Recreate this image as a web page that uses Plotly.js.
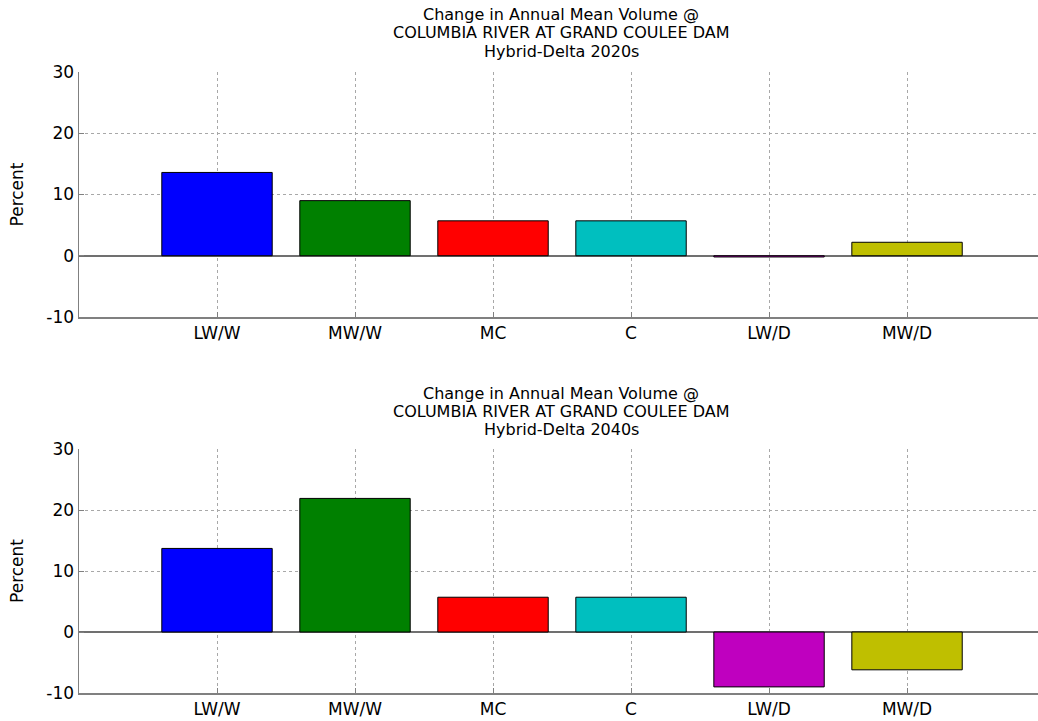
<!DOCTYPE html>
<html>
<head>
<meta charset="utf-8">
<script src="https://cdn.plot.ly/plotly-3.0.1.min.js"></script>
<style>html,body{margin:0;padding:0;background:#fff;}#chart{width:1038px;height:721px;}</style>
</head>
<body>
<div id="chart"></div>
<script>
// ---- data ----
const categories = ["LW/W", "MW/W", "MC", "C", "LW/D", "MW/D"];
const values2020s = [13.6, 9.0, 5.7, 5.7, -0.2, 2.2];
const values2040s = [13.7, 21.9, 5.7, 5.7, -9.0, -6.2];
const barColors = ["#0000FF", "#008000", "#FF0000", "#00BFBF", "#BF00BF", "#BFBF00"];
const titleLine1 = "Change in Annual Mean Volume @";
const titleLine2 = "COLUMBIA RIVER AT GRAND COULEE DAM";
const titleLine3Top = "Hybrid-Delta 2020s";
const titleLine3Bottom = "Hybrid-Delta 2040s";
const yTickVals = [-10, 0, 10, 20, 30];
const yTickText = ["-10", "0", "10", "20", "30"];
const yLabel = "Percent";

const FONT = "DejaVu Sans, Arial, sans-serif";

function barTrace(vals, xa, ya) {
  return {
    type: "bar", x: categories, y: vals, xaxis: xa, yaxis: ya,
    width: 0.8,
    marker: {color: barColors, line: {color: "#000", width: 1}},
    hoverinfo: "x+y", showlegend: false
  };
}

function xAxis(anchor) {
  return {
    anchor: anchor, domain: [0, 1],
    type: "category", range: [-1, 5.949],
    showline: true, linecolor: "#808080", linewidth: 1.5,
    ticks: "inside", ticklen: 5, tickcolor: "#808080",
    showgrid: true, gridcolor: "#a8a8a8", griddash: "dot", gridwidth: 1,
    tickfont: {family: FONT, size: 17, color: "#000"},
    zeroline: false, fixedrange: true
  };
}
function yAxis(anchor, domain) {
  return {
    anchor: anchor, domain: domain,
    range: [-10, 30], tickmode: "array", tickvals: yTickVals, ticktext: yTickText,
    showline: true, linecolor: "#808080", linewidth: 1.5,
    ticks: "inside", ticklen: 5, tickcolor: "#808080",
    showgrid: true, gridcolor: "#a8a8a8", griddash: "dot", gridwidth: 1,
    zeroline: true, zerolinecolor: "#707070", zerolinewidth: 1.5,
    tickfont: {family: FONT, size: 17, color: "#000"},
    title: {text: yLabel, font: {family: FONT, size: 17, color: "#000"}, standoff: 18},
    automargin: false, fixedrange: true
  };
}

function titleAnn(text, ypx) {
  return {
    text: text, xref: "paper", yref: "paper",
    x: (561 - 79) / (1038 - 79), y: 1 - ypx / 721,
    xanchor: "center", yanchor: "middle", showarrow: false,
    font: {family: FONT, size: 16, color: "#000"}
  };
}

const data = [barTrace(values2020s, "x", "y"), barTrace(values2040s, "x2", "y2")];

const layout = {
  width: 1038, height: 721,
  margin: {l: 79, r: 0, t: 0, b: 0},
  paper_bgcolor: "#fff", plot_bgcolor: "#fff",
  bargap: 0.2,
  xaxis: xAxis("y"),
  yaxis: yAxis("x", [1 - 317 / 721, 1 - 72 / 721]),
  xaxis2: xAxis("y2"),
  yaxis2: yAxis("x2", [1 - 693 / 721, 1 - 449 / 721]),
  annotations: [
    titleAnn(titleLine1, 15), titleAnn(titleLine2, 33), titleAnn(titleLine3Top, 52),
    titleAnn(titleLine1, 393), titleAnn(titleLine2, 411), titleAnn(titleLine3Bottom, 430)
  ]
};

Plotly.newPlot("chart", data, layout, {displayModeBar: false, staticPlot: true});
</script>
</body>
</html>
